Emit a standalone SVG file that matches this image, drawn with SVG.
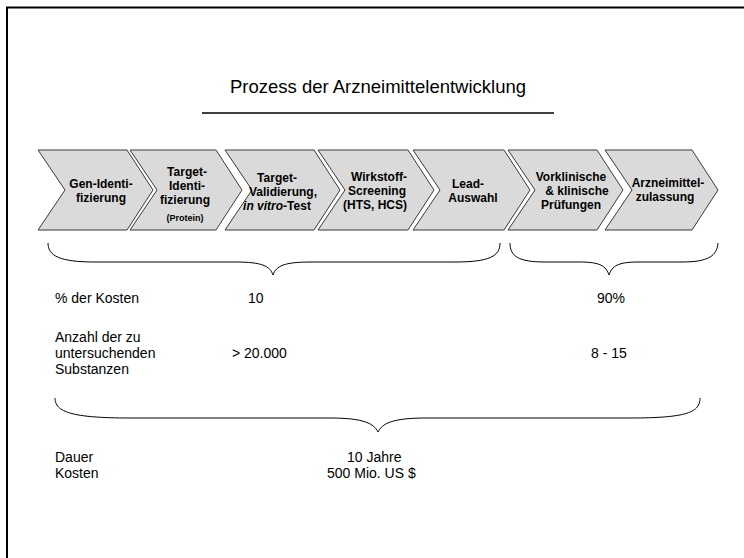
<svg xmlns="http://www.w3.org/2000/svg" width="744" height="558" viewBox="0 0 744 558">
<style>
.chev{fill:#dadada;stroke:#3a3a3a;stroke-width:1}
.ct{font-family:"Liberation Sans",Arial,sans-serif;font-weight:bold;font-size:12px;fill:#000;text-anchor:middle}
.sm{font-size:9px}
.t{font-family:"Liberation Sans",Arial,sans-serif;font-size:14px;fill:#000}
.brace{fill:none;stroke:#000;stroke-width:1}
</style>
<rect width="744" height="558" fill="#fff"/>
<path d="M7,558 V7.5 H744" fill="none" stroke="#000" stroke-width="2"/>
<text x="378" y="93" class="t" style="font-size:18.5px" text-anchor="middle">Prozess der Arzneimittelentwicklung</text>
<line x1="202" y1="113" x2="554" y2="113" stroke="#404040" stroke-width="2"/>

<g id="n1"><polygon class="chev" points="38,150 127,150 153,190 127,230 38,230 65,190"/>
<text class="ct" x="101" y="188">Gen-Identi-</text><text class="ct" x="101" y="202">fizierung</text></g>
<g id="n2"><polygon class="chev" points="130,150 216,150 242,190 216,230 130,230 157,190"/>
<text class="ct" x="187" y="176">Target-</text><text class="ct" x="187" y="190">Identi-</text><text class="ct" x="185" y="204">fizierung</text><text class="ct sm" x="185" y="221">(Protein)</text></g>
<g id="n3"><polygon class="chev" points="225,150 314,150 340,190 314,230 225,230 252,190"/>
<text class="ct" x="277" y="182">Target-</text><text class="ct" x="283" y="196">Validierung,</text><text class="ct" x="277" y="210"><tspan font-style="italic">in vitro</tspan>-Test</text></g>
<g id="n4"><polygon class="chev" points="318,150 408,150 434,190 408,230 318,230 345,190"/>
<text class="ct" x="379" y="181">Wirkstoff-</text><text class="ct" x="377" y="195">Screening</text><text class="ct" x="375" y="209">(HTS, HCS)</text></g>
<g id="n5"><polygon class="chev" points="413,150 504,150 530,190 504,230 413,230 440,190"/>
<text class="ct" x="468" y="188">Lead-</text><text class="ct" x="473" y="202">Auswahl</text></g>
<g id="n6"><polygon class="chev" points="508,150 597,150 623,190 597,230 508,230 535,190"/>
<text class="ct" x="571" y="181">Vorklinische</text><text class="ct" x="577" y="195">&amp; klinische</text><text class="ct" x="571" y="209">Prüfungen</text></g>
<g id="n7"><polygon class="chev" points="605,150 692,150 718,190 692,230 605,230 632,190"/>
<text class="ct" x="668" y="187">Arzneimittel-</text><text class="ct" x="665" y="201">zulassung</text></g>

<g id="braces">
<path class="brace" d="M48,243 C48,256 60,262 95,262 L235,262 C262,262 270,266 273,275 C276,266 284,262 311,262 L455,262 C490,262 500,256 500,243"/>
<path class="brace" d="M510,243 C510,256 518,262 545,262 L580,262 C600,262 606,266 609,275 C612,266 618,262 638,262 L682,262 C708,262 717,256 718,243"/>
<path class="brace" d="M55,398 C55,412 72,418 130,418 L330,418 C365,418 374,424 378,432 C382,424 391,418 426,418 L630,418 C688,418 700,412 700,398"/>
</g>

<text class="t" x="55" y="303">% der Kosten</text>
<text class="t" x="248" y="303">10</text>
<text class="t" x="597" y="303">90%</text>
<text class="t" x="55" y="342">Anzahl der zu</text>
<text class="t" x="55" y="358">untersuchenden</text>
<text class="t" x="55" y="374">Substanzen</text>
<text class="t" x="232" y="358">&gt; 20.000</text>
<text class="t" x="591" y="358">8 - 15</text>
<text class="t" x="55" y="462">Dauer</text>
<text class="t" x="55" y="478">Kosten</text>
<text class="t" x="347" y="462">10 Jahre</text>
<text class="t" x="327" y="478">500 Mio. US $</text>
</svg>
